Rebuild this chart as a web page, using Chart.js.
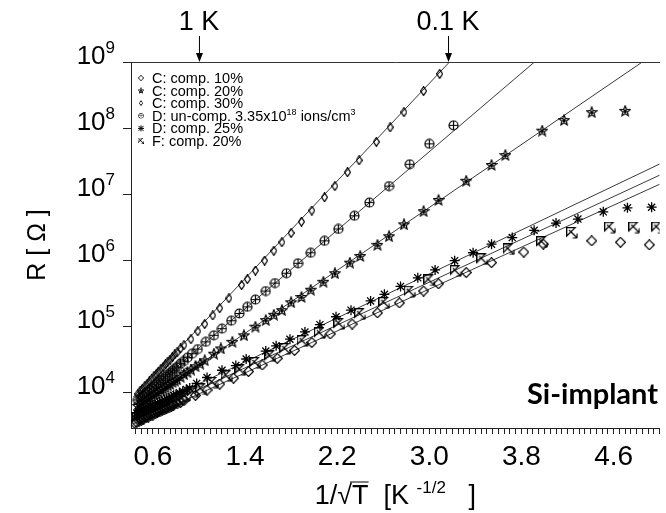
<!DOCTYPE html>
<html>
<head>
<meta charset="utf-8">
<script src="https://cdn.jsdelivr.net/npm/chart.js@4.4.1/dist/chart.umd.min.js"></script>
<style>
  html, body { margin: 0; padding: 0; background: #fff; }
  #wrap { width: 666px; height: 513px; }
</style>
</head>
<body>
<div id="wrap"><canvas id="rChart" width="666" height="513"></canvas></div>
<script>
// x = 1/sqrt(T) [K^-1/2], values below are log10(R / Ohm)

// C: comp. 10%
const c10X = [0.47,0.49,0.51,0.53,0.55,0.57,0.59,0.61,0.63,0.65,0.67,0.69,0.71,0.73,0.75,0.77,0.79,0.81,0.84,0.87,
  0.93,0.99,1.05,1.12,1.18,1.26,1.37,1.42,1.49,1.57,1.65,1.72,1.80,1.89,1.98,2.09,2.18,2.29,2.39,2.54,2.66,2.78,2.95,3.09];
const c10LogR = [3.97,4.02,4.05,4.09,4.12,4.16,4.20,4.24,4.27,4.31,4.35,4.38,4.42,4.46,4.49,4.53,4.57,4.60,4.66,4.71,
  4.80,4.92,5.03,5.16,5.27,5.42,5.62,5.71,5.84,5.99,6.14,6.27,6.41,6.58,6.75,6.95,7.12,7.33,7.51,7.79,8.01,8.24,8.56,8.82];

// C: comp. 20%
const c20X = [0.47,0.49,0.51,0.53,0.55,0.57,0.59,0.61,0.63,0.65,0.67,0.69,0.71,0.73,0.75,0.77,0.79,0.81,0.84,0.87,0.90,0.93,0.97,1.01,1.05,
  1.13,1.19,1.29,1.39,1.49,1.58,1.65,1.72,1.80,1.89,1.97,2.08,2.18,2.31,2.40,2.55,2.65,2.78,2.95,3.08,3.32,3.54,3.66,3.98,4.17,4.41,4.70];
const c20LogR = [3.79,3.81,3.84,3.86,3.88,3.91,3.93,3.96,3.98,4.00,4.03,4.05,4.07,4.10,4.12,4.15,4.17,4.19,4.23,4.27,4.30,4.34,4.39,4.43,4.48,
  4.58,4.66,4.76,4.86,4.99,5.09,5.17,5.24,5.36,5.44,5.55,5.67,5.80,5.96,6.06,6.23,6.36,6.54,6.74,6.91,7.20,7.44,7.59,7.96,8.12,8.24,8.26];

// C: comp. 30%
const c30X = [0.44,0.46,0.48,0.50,0.52,0.54,0.56,0.58,0.60,0.62,0.64,0.66,0.68,0.70,0.72,0.74,0.76,0.78,0.81,0.84,0.87,
  0.97,1.07,1.18,1.30,1.43,1.55,1.68,1.83,1.98,2.14,2.33,2.55,2.74,2.95,3.08,3.32,3.54,3.82,3.99,4.41,4.66,4.91];
const c30LogR = [3.53,3.54,3.56,3.57,3.59,3.61,3.62,3.64,3.65,3.67,3.69,3.70,3.72,3.73,3.75,3.76,3.78,3.80,3.82,3.84,3.87,
  3.95,4.03,4.12,4.21,4.31,4.41,4.51,4.63,4.75,4.88,5.03,5.20,5.35,5.53,5.64,5.81,5.96,6.12,6.24,6.29,6.27,6.23];

// D: un-comp. 3.35x10^18 ions/cm^3
const dUncX = [0.47,0.49,0.51,0.53,0.55,0.57,0.59,0.61,0.63,0.65,0.67,0.69,0.71,0.73,0.75,0.77,0.79,0.81,0.84,0.87,0.90,
  0.94,0.99,1.06,1.13,1.20,1.28,1.35,1.42,1.49,1.58,1.66,1.76,1.86,1.97,2.09,2.21,2.35,2.48,2.65,2.83,3.00,3.21];
const dUncLogR = [3.88,3.91,3.94,3.97,4.00,4.03,4.06,4.09,4.12,4.15,4.18,4.20,4.23,4.26,4.29,4.32,4.35,4.38,4.43,4.47,4.52,
  4.58,4.65,4.76,4.86,4.96,5.08,5.19,5.29,5.40,5.53,5.65,5.80,5.95,6.11,6.29,6.47,6.67,6.87,7.12,7.45,7.76,8.04];

// D: comp. 25%
const d25X = [0.46,0.48,0.50,0.52,0.54,0.56,0.58,0.60,0.62,0.64,0.66,0.68,0.70,0.72,0.74,0.76,0.78,0.80,0.83,0.86,0.89,0.92,
  0.98,1.07,1.20,1.32,1.41,1.58,1.67,1.79,1.92,2.05,2.19,2.32,2.49,2.61,2.75,2.90,3.05,3.22,3.38,3.54,3.72,3.91,4.10,4.29,4.51,4.72,4.93];
const d25LogR = [3.68,3.70,3.71,3.73,3.75,3.76,3.78,3.80,3.81,3.83,3.85,3.86,3.88,3.90,3.91,3.93,3.95,3.96,3.99,4.01,4.04,4.06,
  4.13,4.22,4.33,4.40,4.50,4.62,4.70,4.80,4.91,5.02,5.14,5.24,5.38,5.48,5.60,5.73,5.85,5.99,6.11,6.24,6.34,6.45,6.56,6.62,6.73,6.79,6.80];

// F: comp. 20%
const f20X = [0.45,0.47,0.49,0.51,0.53,0.55,0.57,0.59,0.61,0.63,0.65,0.67,0.69,0.71,0.73,0.75,0.77,0.79,0.82,0.85,0.88,
  0.95,1.02,1.12,1.24,1.36,1.49,1.62,1.75,1.90,2.05,2.22,2.40,2.61,2.83,3.00,3.23,3.46,3.69,3.98,4.24,4.57,4.78,4.98];
const f20LogR = [3.60,3.61,3.63,3.64,3.66,3.68,3.69,3.71,3.73,3.74,3.76,3.77,3.79,3.81,3.82,3.84,3.85,3.87,3.89,3.92,3.94,
  4.00,4.04,4.14,4.24,4.33,4.44,4.54,4.65,4.77,4.89,5.03,5.18,5.35,5.52,5.69,5.83,6.01,6.16,6.27,6.41,6.49,6.49,6.49];

// straight-line fits (end points)
const fitC10 = { x: [0.43, 3.175], logR: [3.924, 9.0] };
const fitUnc = { x: [0.43, 3.913], logR: [3.818, 9.0] };
const fitC20 = { x: [0.43, 4.849], logR: [3.734, 9.0] };
const fitD25 = { x: [0.43, 5.0], logR: [3.648, 7.455] };
const fitF20 = { x: [0.43, 5.0], logR: [3.579, 7.286] };
const fitC30 = { x: [0.43, 5.0], logR: [3.519, 7.148] };

const xTickValues = [0.6, 1.4, 2.2, 3.0, 3.8, 4.6];
const yDecades = [1e4, 1e5, 1e6, 1e7, 1e8, 1e9];
const tempMarks = [{ label: '1 K', T: 1 }, { label: '0.1 K', T: 0.1 }];

const FONT = "'Liberation Sans', Arial, sans-serif";

// --- marker glyphs ---
function makeMarker(w, h, draw) {
  const c = document.createElement('canvas');
  c.width = w; c.height = h;
  const g = c.getContext('2d');
  g.strokeStyle = '#000'; g.fillStyle = '#000'; g.lineWidth = 1.2;
  draw(g);
  return c;
}
const diamondNarrow = makeMarker(7, 10, g => {
  g.beginPath(); g.moveTo(3.5, 0.6); g.lineTo(6.4, 5); g.lineTo(3.5, 9.4); g.lineTo(0.6, 5); g.closePath(); g.stroke();
});
const diamondWide = makeMarker(11, 11, g => {
  g.beginPath(); g.moveTo(5.5, 0.6); g.lineTo(10.4, 5.5); g.lineTo(5.5, 10.4); g.lineTo(0.6, 5.5); g.closePath(); g.stroke();
});
const circlePlus = makeMarker(11, 11, g => {
  g.beginPath(); g.arc(5.5, 5.5, 4.5, 0, Math.PI * 2); g.stroke();
  g.beginPath(); g.moveTo(5.5, 1); g.lineTo(5.5, 10); g.moveTo(1, 5.5); g.lineTo(10, 5.5); g.stroke();
});
const starFive = makeMarker(12, 12, g => {
  g.beginPath();
  for (let i = 0; i < 10; i++) {
    const r = i % 2 ? 2.4 : 5.4;
    const a = -Math.PI / 2 + i * Math.PI / 5;
    g.lineTo(6 + r * Math.cos(a), 6.4 + r * Math.sin(a));
  }
  g.closePath(); g.stroke();
  g.beginPath(); g.arc(6, 6.4, 1.8, 0, Math.PI * 2); g.fill();
});
const triArrow = makeMarker(12, 12, g => {
  g.beginPath(); g.moveTo(0.6, 0.6); g.lineTo(9, 0.6); g.lineTo(0.6, 9); g.closePath(); g.stroke();
  g.beginPath(); g.moveTo(3, 3); g.lineTo(11, 11); g.moveTo(11, 11); g.lineTo(11, 6.5); g.moveTo(11, 11); g.lineTo(6.5, 11); g.stroke();
});

function pts(xs, logs) {
  return xs.map((x, i) => ({ x: x, y: Math.pow(10, logs[i]) }));
}
function fitSet(f) {
  return {
    type: 'scatter', data: pts(f.x, f.logR), showLine: true, pointRadius: 0,
    borderColor: '#3a3a3a', borderWidth: 1, order: 2
  };
}
function markSet(label, xs, logs, style, legendStyle) {
  return {
    label: label, data: pts(xs, logs), pointStyle: style, legendStyle: legendStyle,
    pointRadius: 5, borderColor: '#000', backgroundColor: 'rgba(0,0,0,0)', borderWidth: 1.3, order: 1
  };
}

const markerSets = [
  markSet('C: comp. 10%', c10X, c10LogR, diamondNarrow, diamondWide),
  markSet('C: comp. 20%', c20X, c20LogR, starFive, starFive),
  markSet('C: comp. 30%', c30X, c30LogR, diamondWide, diamondNarrow),
  markSet('D: un-comp. 3.35x10^{18} ions/cm^{3}', dUncX, dUncLogR, circlePlus, circlePlus),
  markSet('D: comp. 25%', d25X, d25LogR, 'star', 'star'),
  markSet('F: comp. 20%', f20X, f20LogR, triArrow, triArrow)
];
const fitSets = [fitC10, fitUnc, fitC20, fitD25, fitF20, fitC30].map(fitSet);

// text with ^{...} superscripts
function richParts(text) {
  const parts = [];
  const re = /\^\{([^}]*)\}/g;
  let last = 0, m;
  while ((m = re.exec(text)) !== null) {
    if (m.index > last) parts.push({ t: text.slice(last, m.index), sup: false });
    parts.push({ t: m[1], sup: true });
    last = re.lastIndex;
  }
  if (last < text.length) parts.push({ t: text.slice(last), sup: false });
  return parts;
}
function drawRich(ctx, text, x, y, size, align, supRatio) {
  const ratio = supRatio || 0.62;
  const main = size + 'px ' + FONT;
  const sup = Math.round(size * ratio) + 'px ' + FONT;
  const parts = richParts(text);
  let total = 0;
  parts.forEach(p => { ctx.font = p.sup ? sup : main; p.w = ctx.measureText(p.t).width; total += p.w; });
  let cx = align === 'right' ? x - total : align === 'center' ? x - total / 2 : x;
  ctx.textAlign = 'left';
  ctx.textBaseline = 'alphabetic';
  parts.forEach(p => {
    ctx.font = p.sup ? sup : main;
    ctx.fillText(p.t, cx, p.sup ? y - size * 0.42 : y);
    cx += p.w;
  });
  return total;
}

const annotatePlugin = {
  id: 'annotate',
  afterDraw(chart) {
    const ctx = chart.ctx;
    const xs = chart.scales.x, ys = chart.scales.y;
    const area = chart.chartArea;
    ctx.save();
    ctx.fillStyle = '#000';
    ctx.strokeStyle = '#000';

    // y tick labels 10^n
    yDecades.forEach(v => {
      const py = ys.getPixelForValue(v);
      drawRich(ctx, '10^{' + Math.round(Math.log10(v)) + '}', 115, py + 2, 26, 'right', 0.66);
    });

    // y title
    ctx.save();
    ctx.translate(45, (area.top + area.bottom) / 2);
    ctx.rotate(-Math.PI / 2);
    ctx.font = '25px ' + FONT;
    ctx.textAlign = 'center';
    ctx.textBaseline = 'alphabetic';
    ctx.fillText('R [ \u03A9 ]', 0, 0);
    ctx.restore();

    // x title: 1/sqrt(T) [K^-1/2 ]
    const tSize = 27;
    ctx.font = tSize + 'px ' + FONT;
    const head = '1/\u221A';
    const wHead = ctx.measureText(head).width;
    const wT = ctx.measureText('T').width;
    const rest = '  [K ^{-1/2}   ]';
    let wRest = 0;
    richParts(rest).forEach(p => {
      ctx.font = (p.sup ? Math.round(tSize * 0.62) : tSize) + 'px ' + FONT;
      wRest += ctx.measureText(p.t).width;
    });
    const tx0 = (area.left + area.right) / 2 - (wHead + wT + wRest) / 2;
    const base = 504;
    ctx.font = tSize + 'px ' + FONT;
    ctx.textAlign = 'left';
    ctx.fillText(head + 'T', tx0, base);
    ctx.lineWidth = 1;
    ctx.beginPath();
    ctx.moveTo(tx0 + wHead - 2, base - 22);
    ctx.lineTo(tx0 + wHead + wT, base - 22);
    ctx.stroke();
    drawRich(ctx, rest, tx0 + wHead + wT, base, tSize, 'left');

    // temperature arrows on top axis
    tempMarks.forEach(m => {
      const px = xs.getPixelForValue(1 / Math.sqrt(m.T));
      ctx.font = '27px ' + FONT;
      ctx.textAlign = 'center';
      ctx.fillText(m.label, px, 30);
      ctx.beginPath();
      ctx.moveTo(px + 0.5, 36);
      ctx.lineTo(px + 0.5, area.top - 6);
      ctx.stroke();
      ctx.beginPath();
      ctx.moveTo(px - 3, area.top - 9);
      ctx.lineTo(px + 4, area.top - 9);
      ctx.lineTo(px + 0.5, area.top);
      ctx.closePath();
      ctx.fill();
    });

    // legend inside plot
    markerSets.forEach((ds, i) => {
      const cy = 78 + i * 12.6;
      const st = ds.legendStyle;
      if (st === 'star') {
        ctx.lineWidth = 1;
        ctx.beginPath();
        ctx.moveTo(138.5, cy - 2.5); ctx.lineTo(143.5, cy + 2.5);
        ctx.moveTo(143.5, cy - 2.5); ctx.lineTo(138.5, cy + 2.5);
        ctx.moveTo(141, cy - 3); ctx.lineTo(141, cy + 3);
        ctx.moveTo(138, cy); ctx.lineTo(144, cy);
        ctx.stroke();
      } else {
        const w = st.width * 0.55, h = st.height * 0.55;
        ctx.drawImage(st, 141 - w / 2, cy - h / 2, w, h);
      }
      drawRich(ctx, ds.label, 152, cy + 5, 14.5, 'left');
    });

    // panel tag
    ctx.font = 'bold 29px Lato, ' + FONT;
    ctx.textAlign = 'left';
    ctx.fillText('Si-implant', 527, 404);

    ctx.restore();
  }
};

new Chart(document.getElementById('rChart'), {
  type: 'scatter',
  data: { datasets: [...fitSets, ...markerSets] },
  options: {
    responsive: false,
    animation: false,
    devicePixelRatio: 1,
    layout: { padding: 0 },
    plugins: { legend: { display: false }, tooltip: { enabled: false } },
    scales: {
      x: {
        type: 'linear', position: 'bottom', min: 0.41, max: 5.0,
        grid: { drawOnChartArea: false, drawTicks: true, tickLength: 6, tickColor: '#222' },
        border: { display: true, color: '#222', width: 1 },
        ticks: {
          stepSize: 0.05, autoSkip: false, maxRotation: 0, includeBounds: false, padding: 6,
          color: '#000', font: { family: FONT, size: 28 },
          callback: v => {
            const hit = xTickValues.find(t => Math.abs(t - v) < 1e-6);
            return hit === undefined ? '' : hit.toFixed(1);
          }
        },
        afterFit: s => { s.height = 85; }
      },
      xTop: {
        type: 'linear', position: 'top', min: 0.41, max: 5.0, display: true,
        grid: { display: false, drawTicks: false },
        border: { display: true, color: '#333', width: 1 },
        ticks: { display: false },
        afterFit: s => { s.height = 62; }
      },
      y: {
        type: 'logarithmic', position: 'left', min: 2850, max: 1e9,
        afterBuildTicks: s => { s.ticks = yDecades.map(v => ({ value: v })); },
        grid: { drawOnChartArea: false, drawTicks: true, tickLength: 8, tickColor: '#222' },
        border: { display: true, color: '#222', width: 1 },
        ticks: { display: false },
        afterFit: s => { s.width = 131; }
      }
    }
  },
  plugins: [annotatePlugin]
});
</script>
</body>
</html>
